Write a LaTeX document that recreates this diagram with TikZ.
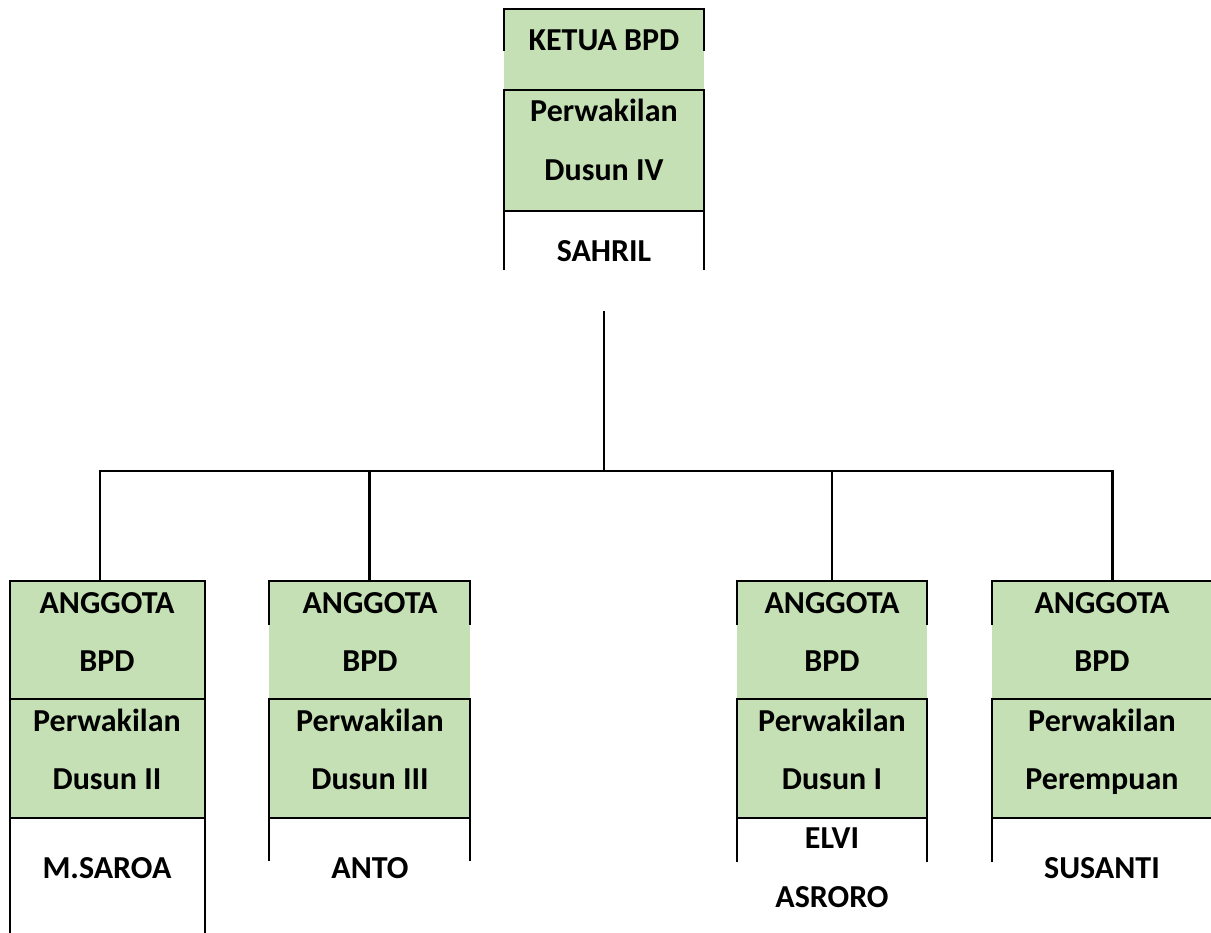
\documentclass[tikz,border=0pt]{standalone}
\usepackage{fontspec}
\setmainfont{Carlito}
\definecolor{lg}{HTML}{C5E0B4}
\begin{document}
\begin{tikzpicture}[x=1pt,y=-1pt,line width=2.2pt,
  sec/.style={fill=lg,draw=none,inner sep=0pt,outer sep=0pt,anchor=north west},
  blank/.style={draw=none,inner sep=0pt,outer sep=0pt,anchor=north west},
  lbl/.style={font=\bfseries\fontsize{32}{32}\selectfont,anchor=base,inner sep=0pt}]
\useasboundingbox (0,0) rectangle (1211,933);
\clip (0,0) rectangle (1211,933);
% ---------- top box ----------
\node[sec,minimum width=200pt,minimum height=81pt] (k1) at (504,9) {};
\node[sec,minimum width=200pt,minimum height=121pt] (k2) at (504,90) {};
\node[blank,minimum width=200pt,minimum height=59pt] (k3) at (504,211) {};
\draw (k1.north west) ++(0,42) -- (k1.north west) -- (k1.north east) -- ++(0,42);
\draw (k3.south west) -- (k2.north west) -- (k2.north east) -- (k3.south east);
\draw (k2.south west) -- (k2.south east);
\node[lbl] (t1) at (604,51) {KETUA BPD};
\node[lbl] (t2) at (604,122) {Perwakilan};
\node[lbl] (t3) at (604,181) {Dusun IV};
\node[lbl] (t4) at (604,262) {SAHRIL};
% ---------- box 1 ----------
\node[sec,minimum width=195pt,minimum height=118pt] (a1) at (10,581) {};
\node[sec,minimum width=195pt,minimum height=119pt] (a2) at (10,699) {};
\node[blank,minimum width=195pt,minimum height=120pt] (a3) at (10,818) {};
\draw (a3.south west) -- (a1.north west) -- (a1.north east) -- (a3.south east);
\draw (a2.north west) -- (a2.north east);
\draw (a2.south west) -- (a2.south east);
\node[lbl] at (107,613) {ANGGOTA};
\node[lbl] at (107,671) {BPD};
\node[lbl] at (107,731) {Perwakilan};
\node[lbl] at (107,789) {Dusun II};
\node[lbl] at (107,878) {M.SAROA};
% ---------- box 2 ----------
\node[sec,minimum width=201pt,minimum height=118pt] (b1) at (269,581) {};
\node[sec,minimum width=201pt,minimum height=119pt] (b2) at (269,699) {};
\node[blank,minimum width=201pt,minimum height=43pt] (b3) at (269,818) {};
\draw (b1.north west) ++(0,44) -- (b1.north west) -- (b1.north east) -- ++(0,44);
\draw (b3.south west) -- (b2.north west) -- (b2.north east) -- (b3.south east);
\draw (b2.south west) -- (b2.south east);
\node[lbl] at (370,613) {ANGGOTA};
\node[lbl] at (370,671) {BPD};
\node[lbl] at (370,731) {Perwakilan};
\node[lbl] at (370,789) {Dusun III};
\node[lbl] at (370,878) {ANTO};
% ---------- box 3 ----------
\node[sec,minimum width=190pt,minimum height=118pt] (c1) at (737,581) {};
\node[sec,minimum width=190pt,minimum height=119pt] (c2) at (737,699) {};
\node[blank,minimum width=190pt,minimum height=44pt] (c3) at (737,818) {};
\draw (c1.north west) ++(0,44) -- (c1.north west) -- (c1.north east) -- ++(0,44);
\draw (c3.south west) -- (c2.north west) -- (c2.north east) -- (c3.south east);
\draw (c2.south west) -- (c2.south east);
\node[lbl] at (832,613) {ANGGOTA};
\node[lbl] at (832,671) {BPD};
\node[lbl] at (832,731) {Perwakilan};
\node[lbl] at (832,789) {Dusun I};
\node[lbl] at (832,848) {ELVI};
\node[lbl] at (832,907) {ASRORO};
% ---------- box 4 ----------
\node[sec,minimum width=222pt,minimum height=118pt] (d1) at (992,581) {};
\node[sec,minimum width=222pt,minimum height=119pt] (d2) at (992,699) {};
\node[blank,minimum width=222pt,minimum height=44pt] (d3) at (992,818) {};
\draw (d1.north west) ++(0,44) -- (d1.north west) -- (d1.north east) -- ++(0,44);
\draw (d3.south west) -- (d2.north west) -- (d2.north east) -- (d3.south east);
\draw (d2.south west) -- (d2.south east);
\node[lbl] at (1102,613) {ANGGOTA};
\node[lbl] at (1102,671) {BPD};
\node[lbl] at (1102,731) {Perwakilan};
\node[lbl] at (1102,789) {Perempuan};
\node[lbl] at (1102,878) {SUSANTI};
% ---------- connectors ----------
\coordinate (tstart) at (604,311);
\coordinate (junc) at (604,471);
\draw (tstart) -- (junc);
\draw ([xshift=-7.5pt]a1.north) |- (junc) -| ([xshift=9.5pt]d1.north);
\draw (b1.north) -- (b1.north |- junc);
\draw (c1.north) -- (c1.north |- junc);
\end{tikzpicture}
\end{document}
